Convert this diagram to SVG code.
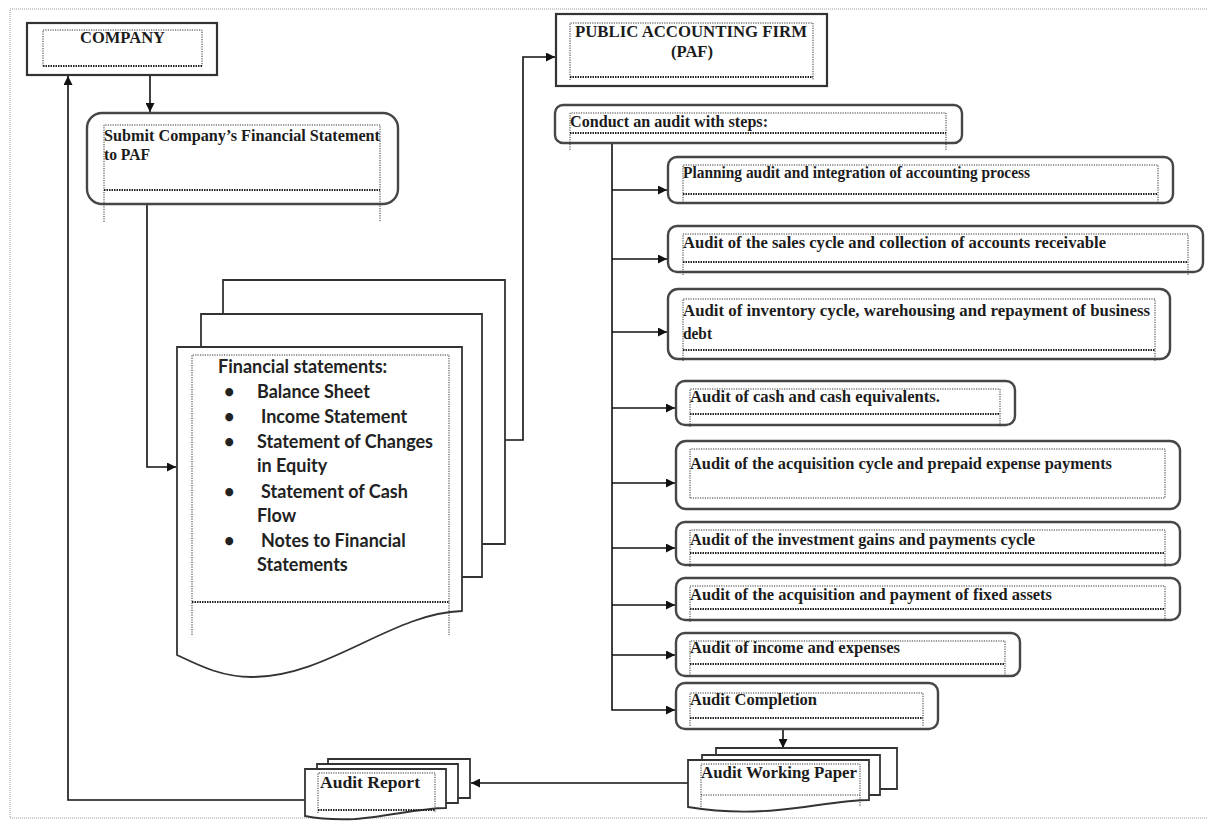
<svg xmlns="http://www.w3.org/2000/svg" width="1207" height="821" viewBox="0 0 1207 821">
<style>
.frame{fill:none;stroke:#9a9a9a;stroke-width:1;stroke-dasharray:1 1}
.box{fill:#fff;stroke:#333;stroke-width:2.2}
.rbox{fill:#fff;stroke:#464646;stroke-width:2.4}
.page{fill:#fff;stroke:#333;stroke-width:1.8;stroke-linejoin:miter}
.dot{fill:none;stroke:#333;stroke-width:1;stroke-dasharray:1.2 1.2}
.wavy{fill:none;stroke:#222;stroke-width:2.2;stroke-dasharray:1.5 1}
.t{font-family:"Liberation Serif","Times New Roman",serif;font-weight:bold;font-size:16px;fill:#1c1c1c}
.c{font-family:Lato,"Open Sans",sans-serif;font-weight:bold;font-size:18px;fill:#222}
.con{fill:none;stroke:#111;stroke-width:1.6}
</style>
<defs>
<marker id="ah" viewBox="0 0 10 10" refX="10" refY="5" markerWidth="9" markerHeight="9" markerUnits="userSpaceOnUse" orient="auto"><path d="M0,0 L10,5 L0,10 Z" fill="#111"/></marker>
</defs>
<rect width="1207" height="821" fill="#fff"/>
<path class="frame" d="M1207,9 H10 V818 H1207"/>

<g id="connectors">
<path class="con" d="M150,75 V112" marker-end="url(#ah)"/>
<path class="con" d="M147,204 V467 H176" marker-end="url(#ah)"/>
<path class="con" d="M505,440 H523 V57 H555" marker-end="url(#ah)"/>
<path class="con" d="M612,143 V710 H675" marker-end="url(#ah)"/>
<path class="con" d="M612,190 H667" marker-end="url(#ah)"/>
<path class="con" d="M612,259 H667" marker-end="url(#ah)"/>
<path class="con" d="M612,332 H667" marker-end="url(#ah)"/>
<path class="con" d="M612,408 H675" marker-end="url(#ah)"/>
<path class="con" d="M612,483 H675" marker-end="url(#ah)"/>
<path class="con" d="M612,548 H675" marker-end="url(#ah)"/>
<path class="con" d="M612,605 H675" marker-end="url(#ah)"/>
<path class="con" d="M612,655 H675" marker-end="url(#ah)"/>
<path class="con" d="M783,729 V748" marker-end="url(#ah)"/>
<path class="con" d="M688,783 H471" marker-end="url(#ah)"/>
<path class="con" d="M305,800 H68 V76" marker-end="url(#ah)"/>
</g>

<g id="company">
<rect class="box" x="27" y="23" width="190" height="52"/>
<path class="dot" d="M43,66 V30 H202 V66"/>
<path class="wavy" d="M43,66 H202"/>
<text class="t" x="80" y="43" textLength="85" lengthAdjust="spacingAndGlyphs">COMPANY</text>
</g>

<g id="submit">
<rect class="rbox" x="87" y="113" width="311" height="91" rx="15"/>
<path class="dot" d="M104,222 V125 H380 V222"/>
<path class="wavy" d="M104,190 H380"/>
<text class="t" x="104" y="141" textLength="276" lengthAdjust="spacingAndGlyphs">Submit Company’s Financial Statement</text>
<text class="t" x="104" y="160" textLength="46" lengthAdjust="spacingAndGlyphs">to PAF</text>
</g>

<g id="financial-statements">
<path class="page" d="M223,314 V280 H505 V544 H482"/>
<path class="page" d="M201,347 V314 H482 V577 H462"/>
<path class="page" d="M177,347 H462 V611 C392,613 328,677 252,677 C222,677 200,666 177,655 Z"/>
<path class="dot" d="M192,635 V355 H449 V635"/>
<path class="wavy" d="M192,602 H449"/>
<text class="c" x="218" y="373">Financial statements:</text>
<text class="c" x="224" y="398">•</text>
<text class="c" x="257" y="398">Balance Sheet</text>
<text class="c" x="224" y="423">•</text>
<text class="c" x="261" y="423">Income Statement</text>
<text class="c" x="224" y="448">•</text>
<text class="c" x="257" y="448">Statement of Changes</text>
<text class="c" x="257" y="472">in Equity</text>
<text class="c" x="224" y="498">•</text>
<text class="c" x="261" y="498">Statement of Cash</text>
<text class="c" x="257" y="522">Flow</text>
<text class="c" x="224" y="547">•</text>
<text class="c" x="261" y="547">Notes to Financial</text>
<text class="c" x="257" y="571">Statements</text>
</g>

<g id="paf">
<rect class="box" x="556" y="14" width="271" height="72"/>
<path class="dot" d="M570,80 V23 H813 V80"/>
<path class="wavy" d="M570,77 H813"/>
<text class="t" x="575" y="37" textLength="232" lengthAdjust="spacingAndGlyphs">PUBLIC ACCOUNTING FIRM</text>
<text class="t" x="671" y="57" textLength="42" lengthAdjust="spacingAndGlyphs">(PAF)</text>
</g>

<g id="conduct">
<rect class="rbox" x="555" y="105" width="407" height="38" rx="8"/>
<path class="dot" d="M570,150 V113 H946 V150"/>
<path class="wavy" d="M570,133 H946"/>
<text class="t" x="570" y="127" textLength="198" lengthAdjust="spacingAndGlyphs">Conduct an audit with steps:</text>
</g>

<g id="step-planning">
<rect class="rbox" x="668" y="157" width="505" height="46" rx="9"/>
<path class="dot" d="M683,203 V165 H1158 V203"/>
<path class="wavy" d="M683,194 H1158"/>
<text class="t" x="683" y="178" textLength="347" lengthAdjust="spacingAndGlyphs">Planning  audit  and integration of accounting process</text>
</g>

<g id="step-sales">
<rect class="rbox" x="668" y="226" width="535" height="46" rx="9"/>
<path class="dot" d="M683,275 V234 H1188 V275"/>
<path class="wavy" d="M683,262 H1188"/>
<text class="t" x="683" y="248" textLength="423" lengthAdjust="spacingAndGlyphs">Audit  of  the sales cycle and collection of accounts receivable</text>
</g>

<g id="step-inventory">
<rect class="rbox" x="668" y="289" width="502" height="70" rx="10"/>
<path class="dot" d="M683,361 V299 H1155 V361"/>
<path class="wavy" d="M683,350 H1155"/>
<text class="t" x="683" y="316" textLength="467" lengthAdjust="spacingAndGlyphs">Audit  of  inventory cycle, warehousing and repayment of business</text>
<text class="t" x="683" y="339" textLength="29" lengthAdjust="spacingAndGlyphs">debt</text>
</g>

<g id="step-cash">
<rect class="rbox" x="676" y="381" width="339" height="44" rx="9"/>
<path class="dot" d="M690,427 V389 H1000 V427"/>
<path class="wavy" d="M690,414 H1000"/>
<text class="t" x="690" y="402" textLength="250" lengthAdjust="spacingAndGlyphs">Audit of  cash and cash equivalents.</text>
</g>

<g id="step-acquisition-cycle">
<rect class="rbox" x="676" y="441" width="504" height="68" rx="10"/>
<path class="dot" d="M690,498 V449 H1165 V498 H690"/>
<text class="t" x="690" y="469" textLength="422" lengthAdjust="spacingAndGlyphs">Audit of  the acquisition cycle and prepaid expense payments</text>
</g>

<g id="step-investment">
<rect class="rbox" x="676" y="522" width="504" height="43" rx="9"/>
<path class="dot" d="M690,567 V530 H1165 V567"/>
<path class="wavy" d="M690,553 H1165"/>
<text class="t" x="690" y="545" textLength="345" lengthAdjust="spacingAndGlyphs">Audit  of the investment gains and payments cycle</text>
</g>

<g id="step-fixed-assets">
<rect class="rbox" x="676" y="578" width="504" height="42" rx="9"/>
<path class="dot" d="M690,622 V586 H1165 V622"/>
<path class="wavy" d="M690,609 H1165"/>
<text class="t" x="690" y="600" textLength="362" lengthAdjust="spacingAndGlyphs">Audit  of the acquisition and payment of fixed assets</text>
</g>

<g id="step-income">
<rect class="rbox" x="676" y="633" width="344" height="43" rx="9"/>
<path class="dot" d="M690,676 V641 H1005 V676"/>
<path class="wavy" d="M690,664 H1005"/>
<text class="t" x="690" y="653" textLength="210" lengthAdjust="spacingAndGlyphs">Audit  of income and expenses</text>
</g>

<g id="step-completion">
<rect class="rbox" x="676" y="683" width="262" height="46" rx="9"/>
<path class="dot" d="M690,726 V693 H923 V726"/>
<path class="wavy" d="M690,718 H923"/>
<text class="t" x="690" y="705" textLength="127" lengthAdjust="spacingAndGlyphs">Audit Completion</text>
</g>

<g id="audit-working-paper">
<path class="page" d="M716,755 V748 H897 V789 H880"/>
<path class="page" d="M702,760 V755 H880 V795 H869"/>
<path class="page" d="M688,760 H869 V800 C845,800 810,807 778,810 C745,813 712,811 688,807 Z"/>
<path class="dot" d="M701,807 V764 H860 V807"/>
<path class="dot" d="M701,795 H860"/>
<text class="t" x="701" y="778" textLength="156" lengthAdjust="spacingAndGlyphs">Audit Working Paper</text>
</g>

<g id="audit-report">
<path class="page" d="M328,764 V759 H470 V798 H458"/>
<path class="page" d="M317,769 V764 H458 V803 H446"/>
<path class="page" d="M305,769 H446 V808 C420,808 385,817 355,819 C330,820 315,818 305,816 Z"/>
<path class="dot" d="M318,813 V773 H435 V813"/>
<path class="wavy" d="M318,810 H435"/>
<text class="t" x="320" y="788" textLength="100" lengthAdjust="spacingAndGlyphs">Audit Report</text>
</g>
</svg>
